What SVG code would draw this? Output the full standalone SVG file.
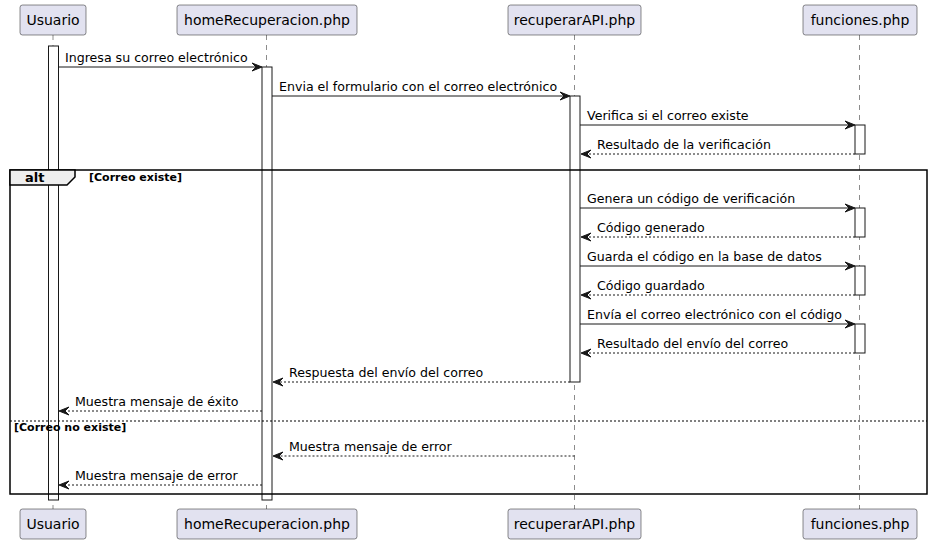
<svg xmlns="http://www.w3.org/2000/svg" width="932" height="544" viewBox="0 0 932 544">
<style>
text{font-family:"DejaVu Sans","Liberation Sans",sans-serif;fill:#000}
.pbox{fill:#E2E2F0;stroke:#181818;stroke-width:0.5}
.pt{font-size:14px;text-anchor:middle}
.life{stroke:#181818;stroke-width:0.5;stroke-dasharray:5,5}
.act{fill:#fff;stroke:#181818;stroke-width:1}
.msg{stroke:#181818;stroke-width:1;fill:none}
.ret{stroke:#181818;stroke-width:1;fill:none;stroke-dasharray:2,2}
.head{fill:#181818;stroke:#181818;stroke-width:1}
.mt{font-size:12.6px}
.frame{fill:none;stroke:#000;stroke-width:1.5}
.guard{font-size:11px;font-weight:bold}
</style>
<g id="lifelines">
<line class="life" x1="53" y1="35" x2="53" y2="509"/>
<line class="life" x1="266.5" y1="35" x2="266.5" y2="509"/>
<line class="life" x1="574.5" y1="35" x2="574.5" y2="509"/>
<line class="life" x1="859.5" y1="35" x2="859.5" y2="509"/>
</g>
<g id="Usuario">
<rect class="pbox" x="20" y="5" width="66" height="30" rx="2.5"/>
<text class="pt" x="53" y="25">Usuario</text>
<rect class="pbox" x="20" y="509" width="66" height="30" rx="2.5"/>
<text class="pt" x="53" y="529">Usuario</text>
<rect class="act" x="48.5" y="46" width="10" height="454"/>
</g>
<g id="homeRecuperacion">
<rect class="pbox" x="177" y="5" width="180" height="30" rx="2.5"/>
<text class="pt" x="267" y="25">homeRecuperacion.php</text>
<rect class="pbox" x="177" y="509" width="180" height="30" rx="2.5"/>
<text class="pt" x="267" y="529">homeRecuperacion.php</text>
<rect class="act" x="262" y="67" width="10" height="433"/>
</g>
<g id="recuperarAPI">
<rect class="pbox" x="508" y="5" width="133" height="30" rx="2.5"/>
<text class="pt" x="574.5" y="25">recuperarAPI.php</text>
<rect class="pbox" x="508" y="509" width="133" height="30" rx="2.5"/>
<text class="pt" x="574.5" y="529">recuperarAPI.php</text>
<rect class="act" x="570" y="96" width="10" height="286"/>
</g>
<g id="funciones">
<rect class="pbox" x="803" y="5" width="114" height="30" rx="2.5"/>
<text class="pt" x="860" y="25">funciones.php</text>
<rect class="pbox" x="803" y="509" width="114" height="30" rx="2.5"/>
<text class="pt" x="860" y="529">funciones.php</text>
<rect class="act" x="855" y="125" width="10" height="29"/>
<rect class="act" x="855" y="208" width="10" height="29"/>
<rect class="act" x="855" y="266" width="10" height="29"/>
<rect class="act" x="855" y="324" width="10" height="29"/>
</g>
<g id="alt-frame">
<rect class="frame" x="10" y="170" width="917" height="324"/>
<polygon points="10,170 75,170 75,177 67,185 10,185" fill="#EEEEEE" stroke="#000" stroke-width="1.5"/>
<text x="25" y="182" style="font-size:13px;font-weight:bold">alt</text>
<text class="guard" x="89" y="181">[Correo existe]</text>
<line x1="10" y1="421" x2="927" y2="421" stroke="#000" stroke-width="1" stroke-dasharray="2,2"/>
<text class="guard" x="14" y="431">[Correo no existe]</text>
</g>
<g id="connectors">
<line class="msg" x1="58.5" y1="67" x2="260" y2="67"/>
<polygon class="head" points="252,63 262,67 252,71 256,67"/>
<text class="mt" x="65" y="62">Ingresa su correo electrónico</text>

<line class="msg" x1="272" y1="96" x2="568" y2="96"/>
<polygon class="head" points="560,92 570,96 560,100 564,96"/>
<text class="mt" x="279" y="91">Envia el formulario con el correo electrónico</text>

<line class="msg" x1="580" y1="125" x2="853" y2="125"/>
<polygon class="head" points="845,121 855,125 845,129 849,125"/>
<text class="mt" x="587" y="120">Verifica si el correo existe</text>

<line class="ret" x1="855" y1="154" x2="582" y2="154"/>
<polygon class="head" points="591,150 581,154 591,158 587,154"/>
<text class="mt" x="597" y="149">Resultado de la verificación</text>

<line class="msg" x1="580" y1="208" x2="853" y2="208"/>
<polygon class="head" points="845,204 855,208 845,212 849,208"/>
<text class="mt" x="587" y="203">Genera un código de verificación</text>

<line class="ret" x1="855" y1="237" x2="582" y2="237"/>
<polygon class="head" points="591,233 581,237 591,241 587,237"/>
<text class="mt" x="597" y="232">Código generado</text>

<line class="msg" x1="580" y1="266" x2="853" y2="266"/>
<polygon class="head" points="845,262 855,266 845,270 849,266"/>
<text class="mt" x="587" y="261">Guarda el código en la base de datos</text>

<line class="ret" x1="855" y1="295" x2="582" y2="295"/>
<polygon class="head" points="591,291 581,295 591,299 587,295"/>
<text class="mt" x="597" y="290">Código guardado</text>

<line class="msg" x1="580" y1="324" x2="853" y2="324"/>
<polygon class="head" points="845,320 855,324 845,328 849,324"/>
<text class="mt" x="587" y="319">Envía el correo electrónico con el código</text>

<line class="ret" x1="855" y1="353" x2="582" y2="353"/>
<polygon class="head" points="591,349 581,353 591,357 587,353"/>
<text class="mt" x="597" y="348">Resultado del envío del correo</text>

<line class="ret" x1="570" y1="382" x2="274" y2="382"/>
<polygon class="head" points="283,378 273,382 283,386 279,382"/>
<text class="mt" x="289" y="377">Respuesta del envío del correo</text>

<line class="ret" x1="262" y1="411" x2="61" y2="411"/>
<polygon class="head" points="69,407 59,411 69,415 65,411"/>
<text class="mt" x="75" y="406">Muestra mensaje de éxito</text>

<line class="ret" x1="574.5" y1="456" x2="274" y2="456"/>
<polygon class="head" points="283,452 273,456 283,460 279,456"/>
<text class="mt" x="289" y="451">Muestra mensaje de error</text>

<line class="ret" x1="262" y1="485" x2="61" y2="485"/>
<polygon class="head" points="69,481 59,485 69,489 65,485"/>
<text class="mt" x="75" y="480">Muestra mensaje de error</text>
</g>
</svg>
